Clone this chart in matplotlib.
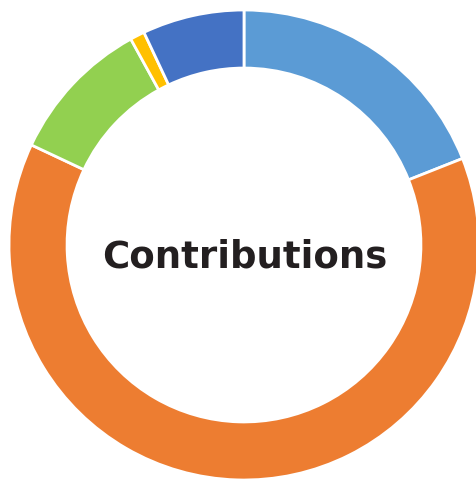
import matplotlib
matplotlib.use("Agg")
import matplotlib.pyplot as plt

labels = ["A", "B", "C", "D", "E"]
values = [19, 63, 10, 1, 7]
colors = ["#5B9BD5", "#ED7D31", "#92D050", "#FFC000", "#4472C4"]
title = "Contributions"

W, H = 476, 479
fig = plt.figure(figsize=(W / 100, H / 100), dpi=100)
ax = fig.add_axes([0, 0, 1, 1])
ax.set_xlim(0, W)
ax.set_ylim(0, H)
ax.set_aspect("equal")
ax.axis("off")

R = 235
ax.pie(values, colors=colors, startangle=90, counterclock=False,
       center=(244, H - 245), radius=R, frame=True,
       wedgeprops=dict(width=R * 0.247, edgecolor="white", linewidth=2))
ax.set_xlim(0, W)
ax.set_ylim(0, H)
ax.axis("off")

ax.text(244.5, H - 267.5, title, ha="center", va="baseline", fontsize=26.7,
        fontweight="bold", family=["DejaVu Sans"], color="#231F20")

fig.savefig("out.png", dpi=100)
